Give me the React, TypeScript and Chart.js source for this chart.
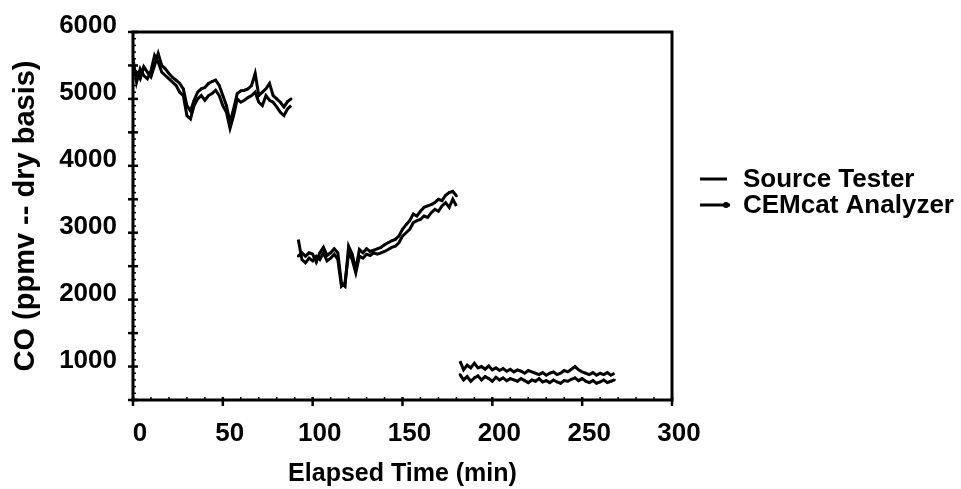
import React, { useEffect, useRef } from "react";
import { Chart, registerables } from "chart.js";

Chart.register(...registerables);

const SERIES_NAMES = ["Source Tester", "CEMcat Analyzer"];
const X_TITLE = "Elapsed Time (min)";
const Y_TITLE = "CO (ppmv -- dry basis)";
const X_TICKS = [0, 50, 100, 150, 200, 250, 300];
const Y_TICKS = [1000, 2000, 3000, 4000, 5000, 6000];

// elapsed time (min); a null value in the series marks a break between test runs
const TIME = [
  0, 2, 4, 6, 8, 10, 12, 14, 16, 18, 20, 22, 24, 26, 28, 30, 32, 34, 36, 38, 40, 42, 44,
  46, 48, 50, 52, 54, 56, 58, 60, 62, 64, 66, 68, 70, 72, 74, 76, 78, 80, 82, 84, 86, 88,
  90,
  92, 94, 96, 98, 100, 102, 104, 106, 108, 110, 112, 114, 116, 118, 120, 122, 124, 126,
  128, 130, 132, 134, 136, 138, 140, 142, 144, 146, 148, 150, 152, 154, 156, 158, 160,
  162, 164, 166, 168, 170, 172, 174, 176, 178, 180,
  181,
  182, 184, 186, 188, 190, 192, 194, 196, 198, 200, 202, 204, 206, 208, 210, 212, 214,
  216, 218, 220, 222, 224, 226, 228, 230, 232, 234, 236, 238, 240, 242, 244, 246, 248,
  250, 252, 254, 256, 258, 260, 262, 264, 266, 268,
];

const SOURCE_TESTER = [
  5600, 5250, 5450, 5350, 5300, 5420, 5650, 5550, 5400, 5350, 5300, 5250, 5200, 5100, 5050,
  4750, 4700, 4900, 5000, 5050, 4980, 5050, 5080, 5130, 5050, 4900, 4800, 4560, 4750, 5000,
  4950, 4980, 5020, 5050, 5100, 4950, 4900, 5050, 4980, 4950, 4880, 4800, 4750, 4850, 4900,
  null,
  2900, 2600, 2550, 2620, 2580, 2650, 2600, 2700, 2580, 2620, 2680, 2600, 2200, 2250, 2700,
  2600, 2400, 2650, 2620, 2680, 2660, 2700, 2680, 2700, 2720, 2750, 2780, 2800, 2850, 2950,
  3000, 3050, 3150, 3180, 3200, 3250, 3230, 3300, 3350, 3320, 3400, 3450, 3380, 3500, 3400,
  null,
  1080, 950, 1020, 980, 1050, 980, 1000, 960, 1010, 950, 980, 940, 970, 930, 960, 920, 950,
  930, 900, 940, 920, 900, 880, 910, 870, 900, 920, 880, 900, 940, 920, 960, 1000, 950, 920,
  900, 880, 910, 870, 900, 880, 910, 870, 900,
];

const CEMCAT = [
  5450, 5400, 5300, 5480, 5400, 5330, 5500, 5680, 5500, 5450, 5380, 5320, 5280, 5230, 5150,
  4900, 4820, 4980, 5100, 5150, 5170, 5230, 5260, 5280, 5200, 5050, 4900, 4650, 4850, 5080,
  5120, 5130, 5150, 5200, 5380, 5050, 5100, 5150, 5230, 5050, 5000, 4950, 4880, 4960, 5000,
  null,
  2650, 2700, 2650, 2700, 2680, 2560, 2700, 2780, 2660, 2700, 2760, 2700, 2250, 2200, 2800,
  2680, 2450, 2750, 2700, 2760, 2720, 2740, 2760, 2780, 2820, 2850, 2880, 2900, 2950, 3050,
  3120, 3180, 3280, 3250, 3320, 3380, 3400, 3420, 3450, 3500, 3480, 3560, 3600, 3620, 3550,
  null,
  880, 800, 850, 780, 830, 860, 800, 850, 820, 780, 840, 800, 830, 790, 820, 800, 780, 820,
  790, 760, 800, 780, 820, 770, 790, 760, 800, 770, 750, 790, 780, 810, 830, 790, 820, 780,
  760, 790, 750, 770, 800, 760, 780, 800,
];

const FONT = "'Liberation Sans', Arial, Helvetica, sans-serif";

const frameAndTicks = {
  id: "frameAndTicks",
  afterDraw(chart: any) {
    const { ctx, chartArea } = chart;
    const { left, right, top, bottom } = chartArea;
    const xs = chart.scales.x;
    const ys = chart.scales.y;
    ctx.save();
    ctx.strokeStyle = "#000";
    ctx.lineWidth = 3;
    ctx.strokeRect(left, top, right - left, bottom - top);
    // y ticks: major every 500, minor every 100
    for (let v = 500; v <= 6000; v += 100) {
      const y = ys.getPixelForValue(v);
      const major = v % 500 === 0;
      ctx.lineWidth = major ? 2.5 : 1.5;
      ctx.beginPath();
      ctx.moveTo(left - (major ? 5 : 1), y);
      ctx.lineTo(left + (major ? 5 : 3), y);
      ctx.stroke();
    }
    // x ticks: major every 50, minor every 10
    for (let v = 0; v <= 300; v += 10) {
      const x = xs.getPixelForValue(v);
      const major = v % 50 === 0;
      ctx.lineWidth = major ? 2.5 : 1.5;
      ctx.beginPath();
      ctx.moveTo(x, bottom - 3);
      ctx.lineTo(x, bottom + (major ? 6 : 1));
      ctx.stroke();
    }
    ctx.restore();
  },
};

const sideLegend = {
  id: "sideLegend",
  afterDraw(chart: any) {
    const { ctx } = chart;
    const rows = [
      { y: 179, textY: 187, dot: false },
      { y: 205, textY: 213, dot: true },
    ];
    ctx.save();
    chart.data.datasets.forEach((ds: any, i: number) => {
      const r = rows[i];
      ctx.strokeStyle = "#000";
      ctx.lineWidth = 3;
      ctx.beginPath();
      ctx.moveTo(700, r.y);
      ctx.lineTo(r.dot ? 730 : 727, r.y);
      ctx.stroke();
      if (r.dot) {
        ctx.fillStyle = "#000";
        ctx.beginPath();
        ctx.arc(726, r.y, 3, 0, Math.PI * 2);
        ctx.fill();
      }
      ctx.fillStyle = "#000";
      ctx.font = `bold 26px ${FONT}`;
      ctx.textAlign = "left";
      ctx.textBaseline = "alphabetic";
      ctx.fillText(ds.label, 743, r.textY);
    });
    ctx.restore();
  },
};

export default function App() {
  const ref = useRef<HTMLCanvasElement | null>(null);

  useEffect(() => {
    if (!ref.current) return;
    const toPoints = (vals: (number | null)[]) =>
      TIME.map((t, i) => ({ x: t, y: vals[i] }));

    const chart = new Chart(ref.current, {
      type: "line",
      data: {
        datasets: [
          {
            label: SERIES_NAMES[0],
            data: toPoints(SOURCE_TESTER) as any,
            borderColor: "#000",
            backgroundColor: "#000",
            borderWidth: 3,
            pointRadius: 0,
            tension: 0,
            spanGaps: false,
          },
          {
            label: SERIES_NAMES[1],
            data: toPoints(CEMCAT) as any,
            borderColor: "#000",
            backgroundColor: "#000",
            borderWidth: 3,
            pointRadius: 1.3,
            pointBorderWidth: 0,
            tension: 0,
            spanGaps: false,
          },
        ],
      },
      options: {
        responsive: false,
        animation: false,
        devicePixelRatio: 1,
        layout: { padding: { left: 0, top: 32, right: 289, bottom: 0 } },
        plugins: {
          legend: { display: false },
          tooltip: { enabled: false },
        },
        scales: {
          x: {
            type: "linear",
            min: 0,
            max: 300,
            afterBuildTicks: (s: any) => {
              s.ticks = X_TICKS.map((v) => ({ value: v }));
            },
            afterFit: (s: any) => {
              s.height = 89;
            },
            grid: { display: false, drawTicks: false },
            border: { display: false },
            ticks: {
              color: "#000",
              font: { family: FONT, size: 26, weight: "bold" },
              padding: 18,
              labelOffset: 7,
              maxRotation: 0,
              autoSkip: false,
              callback: (v: any) => String(v),
            },
            title: {
              display: true,
              text: X_TITLE,
              color: "#000",
              font: { family: FONT, size: 25, weight: "bold" },
              padding: { top: 0, bottom: 0 },
            },
          },
          y: {
            type: "linear",
            min: 500,
            max: 6000,
            afterBuildTicks: (s: any) => {
              s.ticks = Y_TICKS.map((v) => ({ value: v }));
            },
            afterFit: (s: any) => {
              s.width = 133;
            },
            grid: { display: false, drawTicks: false },
            border: { display: false },
            ticks: {
              color: "#000",
              font: { family: FONT, size: 26, weight: "bold" },
              padding: 16,
              labelOffset: -6,
              autoSkip: false,
              callback: (v: any) => String(v),
            },
            title: {
              display: true,
              text: Y_TITLE,
              color: "#000",
              font: { family: FONT, size: 29, weight: "bold" },
              padding: { top: 9, bottom: 0 },
            },
          },
        },
      },
      plugins: [frameAndTicks, sideLegend],
    });
    return () => chart.destroy();
  }, []);

  return (
    <div style={{ position: "absolute", left: 0, top: 0, width: 961, height: 489, background: "#fff" }}>
      <canvas ref={ref} width={961} height={489} style={{ display: "block" }} />
    </div>
  );
}
